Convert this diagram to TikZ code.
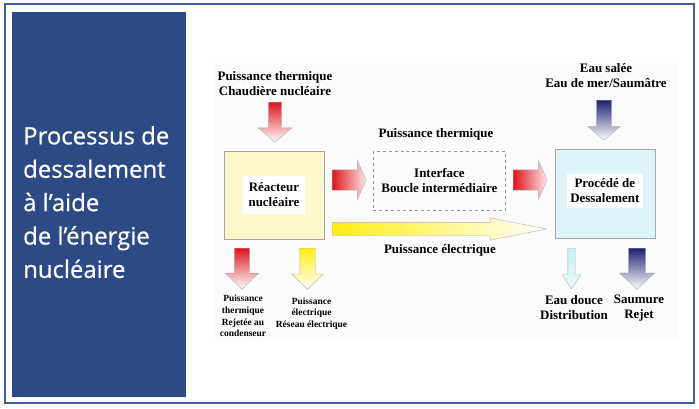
\documentclass[tikz,border=0pt]{standalone}
\usepackage{fontspec}
\setmainfont{Liberation Serif}
\newfontfamily\panelfont{Open Sans}[FakeBold=0.6]
\usetikzlibrary{positioning,shapes.arrows}

\definecolor{panelblue}{HTML}{2B4A86}
\definecolor{framebleu}{HTML}{3F5F9E}
\definecolor{reactfill}{HTML}{FCF8CC}
\definecolor{procfill}{HTML}{DDF5FA}
\definecolor{rouge}{HTML}{E0141C}
\definecolor{jaune}{HTML}{FFEE10}
\definecolor{marine}{HTML}{1E2070}
\definecolor{cyanclair}{HTML}{C6F0F3}

\begin{document}
\begin{tikzpicture}[
    x=1bp, y=-1bp,
    every node/.style={font=\bfseries\fontsize{13}{15}\selectfont, align=center, inner sep=0pt},
    small/.style={font=\bfseries\fontsize{9.5}{11.6}\selectfont},
    box/.style={rectangle, draw=gray!70, minimum width=100bp, minimum height=88bp},
    inbox/.style={rectangle, fill=white, minimum width=62bp, minimum height=38bp},
    varrow/.style={single arrow, shape border rotate=270, draw=gray!60, anchor=tail,
        inner ysep=0pt, inner xsep=7.5bp, minimum height=41bp, minimum width=33bp,
        single arrow head extend=9bp, single arrow tip angle=92},
    harrow/.style={single arrow, draw=gray!60, anchor=tail, inner xsep=0pt, inner ysep=10bp,
        minimum height=34bp, minimum width=39bp, single arrow head extend=9.5bp,
        single arrow tip angle=131}
]
\useasboundingbox (0,0) rectangle (699,408);

% cadre et bandeau
\draw[framebleu, line width=1.5bp] (5,4) rectangle (694,403);
\fill[panelblue] (12,12) rectangle (186,397);
\node[anchor=north west, align=left, text=white, font=\panelfont\fontsize{24}{33.5}\selectfont]
    (titre) at (23,126) {Processus de\\dessalement\\à l’aide\\de l’énergie\\nucléaire};

% fond du schema
\fill[gray!3] (214,63) rectangle (678,340);

% blocs
\node[box, fill=reactfill] (reacteur) at (274,195) {};
\node[inbox] (reacteurTxt) at (reacteur.center) {Réacteur\\nucléaire};
\node[box, dashed, draw=gray!80, minimum width=132bp, minimum height=59bp,
    right=49bp of reacteur.north east, anchor=north west] (interface) {Interface\\Boucle intermédiaire};
\node[box, fill=procfill, minimum height=89bp,
    right=49bp of interface.north east, anchor=north west, yshift=2bp] (procede) {};
\node[inbox, minimum width=76bp, minimum height=34bp, yshift=2.5bp] (procedeTxt) at (procede.center) {Procédé de\\Dessalement};

% fleches
\node[varrow, inner xsep=6.5bp, single arrow head extend=10bp, minimum height=40bp,
    single arrow tip angle=99, top color=rouge, bottom color=white] (thIn) at (275,102) {};
\node[harrow, left color=rouge, right color=white!90!rouge] (thA) at (332,180) {};
\node[harrow, left color=rouge, right color=white!90!rouge] (thB) at (513,180) {};
\node[single arrow, draw=gray!60, anchor=tail, inner xsep=0pt, inner ysep=6.5bp, minimum height=214bp,
    minimum width=22bp, single arrow head extend=4.5bp, single arrow tip angle=22.6,
    left color=jaune, right color=white] (elec) at (332,229) {};
\node[varrow, minimum width=32bp, single arrow head extend=8.5bp, minimum height=40bp,
    single arrow tip angle=99, top color=marine, bottom color=white] (selIn) at (604,100) {};
\node[varrow, top color=rouge, bottom color=white] (thOut) at (242,248) {};
\node[varrow, minimum width=31bp, single arrow head extend=8bp,
    top color=jaune, bottom color=white] (elOut) at (307.5,248) {};
\node[varrow, inner xsep=3.5bp, minimum width=18bp, single arrow head extend=5.5bp,
    single arrow tip angle=65, top color=cyanclair, bottom color=white!60!cyanclair] (eauOut) at (571.5,248) {};
\node[varrow, inner xsep=8.5bp, minimum width=35bp, single arrow head extend=9bp,
    single arrow tip angle=95, top color=marine, bottom color=white] (saumOut) at (637,248) {};

% textes
\node (thInTxt) at (275,84) {Puissance thermique\\Chaudière nucléaire};
\node (thTxt) at (436,134) {Puissance thermique};
\node (elTxt) at (440,250) {Puissance électrique};
\node (selTxt) at (606,76) {Eau salée\\Eau de mer/Saumâtre};
\node[small] (thOutTxt) at (243,316) {Puissance\\thermique\\Rejetée au\\condenseur};
\node[small] (elOutTxt) at (311.5,313.5) {Puissance\\électrique\\Réseau électrique};
\node (eauTxt) at (574,308) {Eau douce\\Distribution};
\node (saumTxt) at (639,308) {Saumure\\Rejet};

\end{tikzpicture}
\end{document}
